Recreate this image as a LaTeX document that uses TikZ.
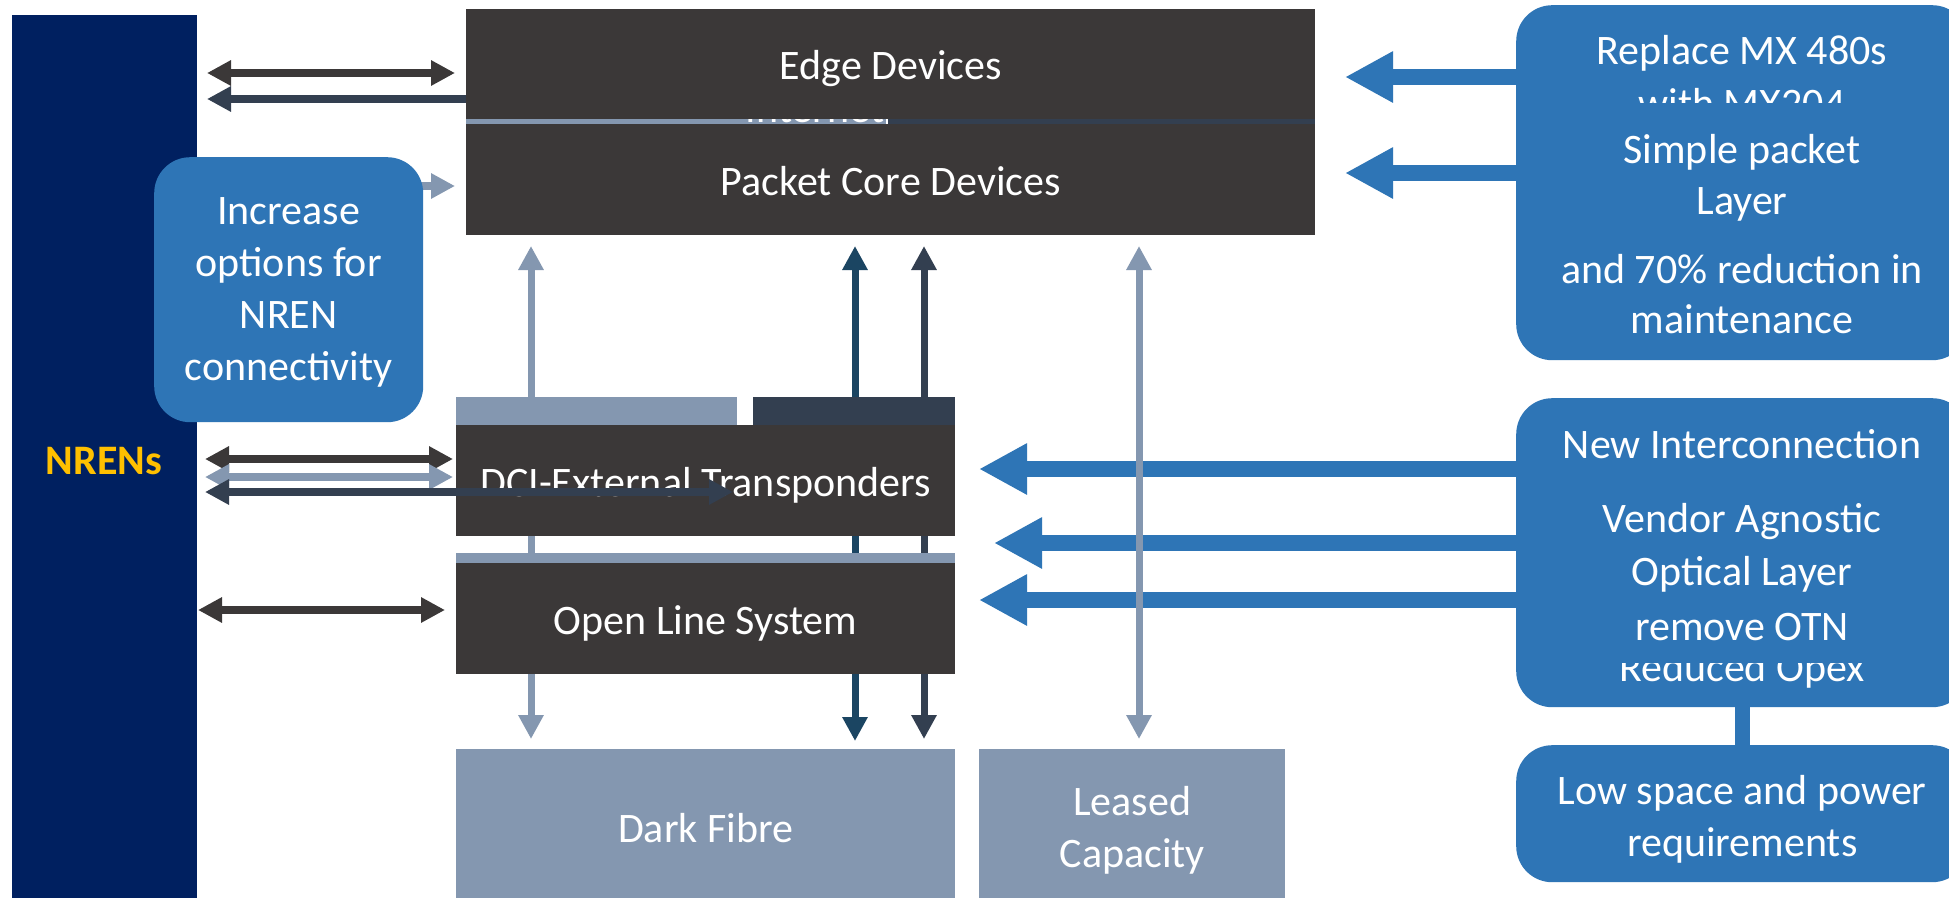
\documentclass[tikz,border=0pt]{standalone}
\usepackage{fontspec}
\setmainfont{Carlito}
\usetikzlibrary{arrows.meta}
\pgfdeclarelayer{bg}
\pgfsetlayers{bg,main}
\definecolor{cNren}{HTML}{002060}
\definecolor{cGold}{HTML}{FFC000}
\definecolor{cDark}{HTML}{3B3838}
\definecolor{cGrey}{HTML}{8497B0}
\definecolor{cNavy}{HTML}{333F50}
\definecolor{cTeal}{HTML}{1B4562}
\definecolor{cBlue}{HTML}{2E75B6}
\tikzset{
  stip/.tip={Triangle[length=24pt,width=24pt]},
  btip/.tip={Triangle[length=48pt,width=48pt]},
}
\begin{document}
\begin{tikzpicture}[x=1pt,y=-1pt,
  txt/.style={text=white,font=\fontsize{42}{52}\selectfont,inner sep=0pt,align=center},
  box/.style={txt,anchor=north west},
  oneline/.style={text height=35pt,text depth=4pt},
  darkbox/.style={box,oneline,fill=cDark},
  greybox/.style={box,fill=cGrey},
  roundbox/.style={box,fill=cBlue,rounded corners=36pt},
  ln/.style={txt,anchor=base},
  smallarrow/.style={line width=8pt},
  vertarrow/.style={line width=7pt,stip-stip},
  bluearrow/.style={line width=16pt,draw=cBlue,-btip}
]
\useasboundingbox (0,0) rectangle (1949,897);

% NREN bar
\node[box,fill=cNren,minimum width=185pt,minimum height=890pt] (nren) at (12,15) {};
\node[inner sep=0pt,text=cGold,font=\bfseries\fontsize{42}{52}\selectfont] (nrenl) at (104,461) {NRENs};

% packet layer
\node[darkbox,minimum width=849pt,minimum height=110pt] (edge) at (466,9) {Edge Devices};
\node[darkbox,minimum width=849pt,minimum height=111pt] (pcore) at (466,124) {Packet Core Devices};
\fill[cGrey] (466,119) rectangle (886,124);
\fill[cNavy] (888,119) rectangle (1315,124);
\begin{scope}
\clip (466,119) rectangle (1315,124);
\node[ln] (inet) at (815,122) {Internet};
\end{scope}

% increase box
\node[roundbox,minimum width=269pt,minimum height=265pt] (inc) at (154,157) {};
\node[txt] (inct) at ([yshift=-3pt]inc.center) {Increase\\options for\\NREN\\connectivity};

% optical layer
\fill[cGrey] (456,397) rectangle (737,425);
\fill[cNavy] (753,397) rectangle (955,425);
\node[darkbox,minimum width=499pt,minimum height=111pt] (dci) at (456,425) {DCI-External Transponders};
\fill[cGrey] (456,553) rectangle (955,563);
\node[darkbox,minimum width=499pt,minimum height=111pt] (ols) at (456,563) {Open Line System};
\node[greybox,oneline,minimum width=499pt,minimum height=156pt] (dfib) at (456,749) {Dark Fibre};
\node[greybox,minimum width=306pt,minimum height=156pt] (leased) at (979,749) {};
\node[txt] (leasedt) at ([yshift=-3pt]leased.center) {Leased\\Capacity};

% coordinates for free arrow ends
\coordinate (l1a) at (207,73);  \coordinate (l1b) at (455,73);
\coordinate (l2a) at (207,99);
\coordinate (l3b) at (455,186);
\coordinate (l4a) at (205,459); \coordinate (l4b) at (453,459);
\coordinate (l5a) at (205,477); \coordinate (l5b) at (453,477);
\coordinate (l6a) at (205,492); \coordinate (l6b) at (733,492);
\coordinate (l7a) at (198,610); \coordinate (l7b) at (445,610);
\coordinate (v1t) at (531,246); \coordinate (v1b) at (531,739);
\coordinate (v2t) at (855,246); \coordinate (v2b) at (855,741);
\coordinate (v3t) at (924,246); \coordinate (v3b) at (924,739);
\coordinate (v4t) at (1139,246); \coordinate (v4b) at (1139,739);

\begin{pgfonlayer}{bg}
\fill[white] (0,0) rectangle (1949,897);
\draw[vertarrow,cGrey] (v1t) -- (v1b);
\draw[vertarrow,cTeal] (v2t) -- (v2b);
\draw[vertarrow,cNavy] (v3t) -- (v3b);
\draw[smallarrow,cNavy,-stip] (edge.west |- l2a) ++(30,0) -- (l2a);
\draw[smallarrow,cGrey,-stip] (inc.center |- l3b) -- (l3b);
\end{pgfonlayer}

\draw[smallarrow,cDark,stip-stip] (l1a) -- (l1b);
\draw[smallarrow,cDark,stip-stip] (l4a) -- (l4b);
\draw[smallarrow,cGrey,stip-stip] (l5a) -- (l5b);
\draw[smallarrow,cNavy,stip-stip] (l6a) -- (l6b);
\draw[smallarrow,cDark,stip-stip] (l7a) -- (l7b);

% right boxes
\node[roundbox,minimum width=452pt,minimum height=355pt] (r1) at (1516,5) {};
\node[ln] (r1a) at (1742,64) {Replace MX 480s};
\node[ln] (r1b) at (1742,117) {with MX204};
\fill[cBlue] (1516,103) rectangle (1968,250);
\node[ln] (r1c) at (1742,163) {Simple packet};
\node[ln] (r1d) at (1742,214) {Layer};
\node[ln] (r1e) at (1742,283) {and 70\% reduction in};
\node[ln] (r1f) at (1742,333) {maintenance};

\node[roundbox,minimum width=452pt,minimum height=309pt] (r2) at (1516,398) {};
\node[ln] (r2a) at (1742,458) {New Interconnection};
\node[ln] (r2e) at (1742,681) {Reduced Opex};
\fill[cBlue] (1516,480) rectangle (1968,663);
\node[ln] (r2b) at (1742,532) {Vendor Agnostic};
\node[ln] (r2c) at (1742,585) {Optical Layer};
\node[ln] (r2d) at (1742,640) {remove OTN};

\node[roundbox,minimum width=452pt,minimum height=137pt] (r3) at (1516,745) {};
\node[txt] (r3t) at ([yshift=-6pt]r3.center) {Low space and power\\requirements};
\draw[cBlue,line width=15pt] (r2.south) -- (r3.north);

% blue arrows
\coordinate (b1) at (1345,77);
\coordinate (b2) at (1345,173);
\coordinate (b3) at (979,469);
\coordinate (b4) at (994,543);
\coordinate (b5) at (979,600);
\draw[bluearrow] (r1.west |- b1) -- (b1);
\draw[bluearrow] (r1.west |- b2) -- (b2);
\draw[bluearrow] (r2.west |- b3) -- (b3);
\draw[bluearrow] (r2.west |- b4) -- (b4);
\draw[bluearrow] (r2.west |- b5) -- (b5);

\draw[vertarrow,cGrey] (v4t) -- (v4b);
\end{tikzpicture}
\end{document}
